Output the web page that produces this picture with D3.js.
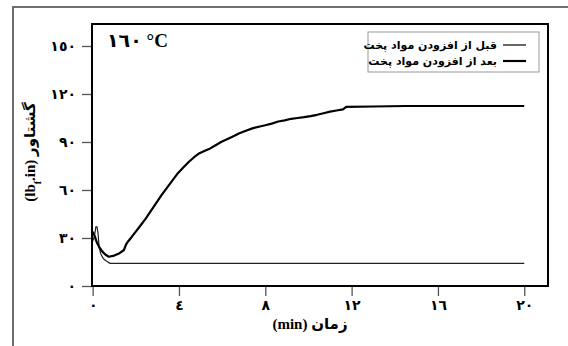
<!DOCTYPE html>
<html>
<head>
<meta charset="utf-8">
<script src="https://cdn.jsdelivr.net/npm/d3@7"></script>
<style>
  body { margin: 0; background: #fff; }
  svg { display: block; }
  .tick text { font-family: "Liberation Serif", "DejaVu Sans", serif; font-weight: bold; font-size: 14px; fill: #000; }
</style>
</head>
<body>
<div id="chart"></div>
<script>
// torque (lbf.in) vs time (min) at 160 C
const afterTime = [0, 0.1, 0.2, 0.3, 0.45, 0.6, 0.75, 1.0, 1.25, 1.45, 1.55, 1.65, 1.8, 2.0, 2.2, 2.45, 2.7, 2.95, 3.2, 3.45, 3.7, 3.95, 4.2, 4.45, 4.7, 4.95, 5.2, 5.45, 5.7, 5.95, 6.2, 6.5, 6.8, 7.1, 7.4, 7.7, 8.0, 8.3, 8.6, 8.9, 9.2, 9.5, 9.8, 10.1, 10.4, 10.7, 11.0, 11.3, 11.6, 11.75, 13.0, 14.5, 16.0, 20.0];
const afterTorque = [34, 31, 27, 24.5, 21.5, 19.5, 18.3, 19, 20.5, 22.5, 26, 28, 30.5, 34, 37.5, 42, 47, 52, 57, 61.5, 66, 70.5, 74, 77.5, 80.5, 83, 84.5, 86, 88, 90, 91.5, 93.5, 95.5, 97, 98.5, 99.5, 100.5, 101.5, 102.8, 103.5, 104.5, 105, 105.5, 106.2, 107, 108, 109, 109.7, 110.4, 112, 112.2, 112.5, 112.5, 112.5];
const beforeTime = [0, 0.08, 0.15, 0.2, 0.25, 0.3, 0.38, 0.5, 0.65, 0.8, 20];
const beforeTorque = [28, 31, 37, 37, 33, 24, 20, 17, 15.5, 14.2, 14.2];

const xTicks = [0, 4, 8, 12, 16, 20];
const yTicks = [0, 30, 60, 90, 120, 150];
const legendLabels = ["قبل از افزودن مواد پخت", "بعد از افزودن مواد پخت"];
const title = "١٦٠ °C";

const W = 568, H = 346;
const margin = { left: 92, top: 24, right: 20, bottom: 60 };
const pw = W - margin.left - margin.right, ph = H - margin.top - margin.bottom;

// western digits -> arabic-indic digits
function ar(n) {
  return String(n).replace(/[0-9]/g, d => String.fromCharCode(0x0660 + +d));
}

const svg = d3.select("#chart").append("svg")
  .attr("width", W).attr("height", H);

// outer frame (runs off the page right and bottom)
svg.append("rect")
  .attr("x", 13).attr("y", 7).attr("width", 600).attr("height", 400)
  .attr("fill", "none").attr("stroke", "#6e6e6e").attr("stroke-width", 2);

const x = d3.scaleLinear().domain([-0.03, 21.1]).range([0, pw]);
const y = d3.scaleLinear().domain([0, 163.75]).range([ph, 0]);

const g = svg.append("g").attr("transform", `translate(${margin.left},${margin.top})`);

const xAxis = g.append("g").attr("transform", `translate(0,${ph})`)
  .call(d3.axisBottom(x).tickValues(xTicks).tickFormat(ar).tickSize(10).tickPadding(4));
const yAxis = g.append("g")
  .call(d3.axisLeft(y).tickValues(yTicks).tickFormat(ar).tickSize(10).tickPadding(6));
[xAxis, yAxis].forEach(a => {
  a.select(".domain").remove();
  a.selectAll(".tick line").attr("stroke", "#555").attr("stroke-width", 1.3);
});

const line = d3.line().x(d => x(d[0])).y(d => y(d[1]));
const before = beforeTime.map((t, i) => [t, beforeTorque[i]]);
const after = afterTime.map((t, i) => [t, afterTorque[i]]);

g.append("path").datum(before).attr("d", line)
  .attr("fill", "none").attr("stroke", "#222").attr("stroke-width", 1.2);
g.append("path").datum(after).attr("d", line)
  .attr("fill", "none").attr("stroke", "#000").attr("stroke-width", 2.2)
  .attr("stroke-linejoin", "round");

// plot border
g.append("rect").attr("width", pw).attr("height", ph)
  .attr("fill", "none").attr("stroke", "#000").attr("stroke-width", 2);

// title
g.append("text").attr("x", 15).attr("y", 23)
  .style("font-family", "'Liberation Serif', 'DejaVu Sans', serif")
  .style("font-weight", "bold").style("font-size", "19px")
  .text(title);

// legend
const lg = svg.append("g");
lg.append("rect").attr("x", 368).attr("y", 32).attr("width", 171).attr("height", 40)
  .attr("fill", "#fff").attr("stroke", "#999").attr("stroke-width", 1);
legendLabels.forEach((lab, i) => {
  const ly = 45 + i * 16;
  lg.append("line").attr("x1", 503).attr("x2", 526).attr("y1", ly).attr("y2", ly)
    .attr("stroke", "#000").attr("stroke-width", i === 0 ? 1.2 : 2.2);
  lg.append("text").attr("x", 497).attr("y", ly + 4)
    .attr("text-anchor", "end")
    .style("font-family", "'DejaVu Sans', sans-serif")
    .style("font-weight", "bold").style("font-size", "11px")
    .text(lab);
});

// axis titles
svg.append("text").attr("x", 310).attr("y", 329)
  .attr("text-anchor", "middle")
  .style("font-family", "'Liberation Serif', 'DejaVu Sans', serif")
  .style("font-weight", "bold").style("font-size", "15px")
  .text("(min) زمان");

const yl = svg.append("text")
  .attr("transform", "translate(35,152) rotate(-90)")
  .attr("text-anchor", "middle")
  .style("font-family", "'Liberation Serif', 'DejaVu Sans', serif")
  .style("font-weight", "bold").style("font-size", "15px");
yl.append("tspan").text("(lb");
yl.append("tspan").attr("baseline-shift", "sub").style("font-size", "10px").text("f");
yl.append("tspan").text(".in) گشتاور");
</script>
</body>
</html>
